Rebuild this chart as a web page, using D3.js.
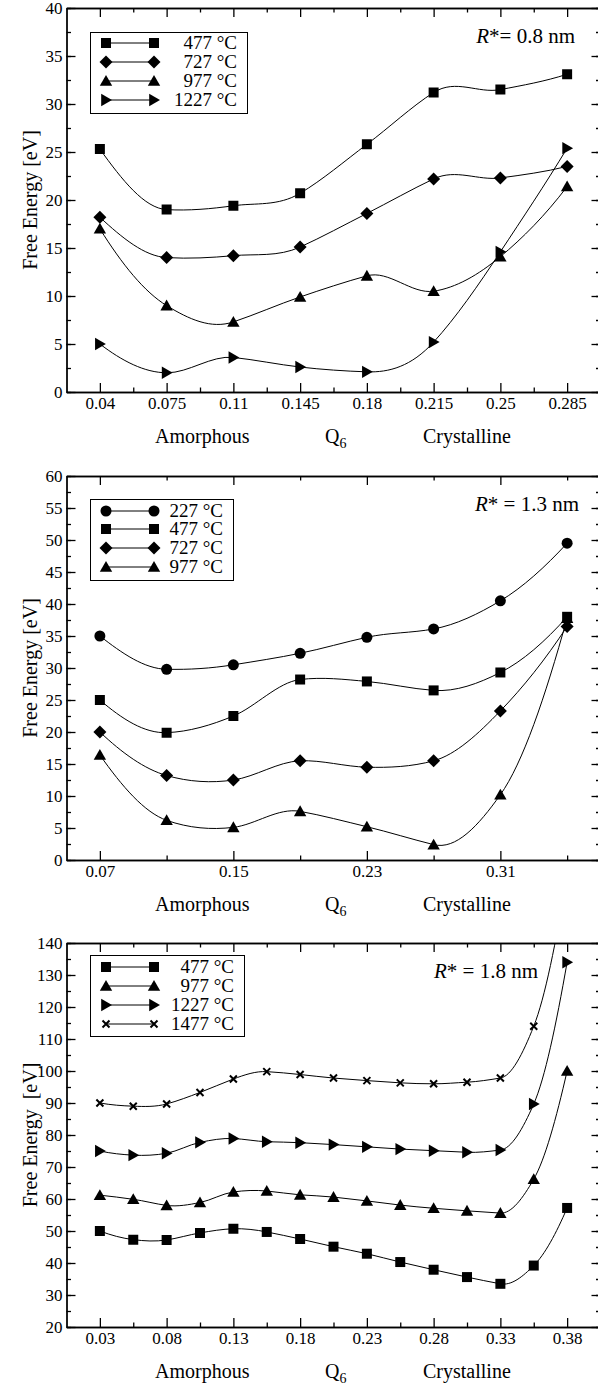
<!DOCTYPE html>
<html>
<head>
<meta charset="utf-8">
<script src="https://cdn.jsdelivr.net/npm/d3@7"></script>
<style>
body { margin: 0; background: #fff; }
svg { display: block; }
svg text { font-family: "Liberation Serif", "Times New Roman", "DejaVu Serif", serif; }
</style>
</head>
<body>
<div id="chart"></div>
<script>
// ---- R* = 0.8 nm ----
var q6_a = [0.04, 0.075, 0.11, 0.145, 0.18, 0.215, 0.25, 0.285];
var fe_a_477 = [25.3, 19.0, 19.4, 20.7, 25.8, 31.2, 31.5, 33.1];
var fe_a_727 = [18.2, 14.0, 14.2, 15.1, 18.6, 22.2, 22.3, 23.5];
var fe_a_977 = [17.0, 9.0, 7.3, 9.9, 12.1, 10.5, 14.1, 21.4];
var fe_a_1227 = [5.0, 2.0, 3.6, 2.6, 2.1, 5.2, 14.6, 25.4];
var xlab_a = ["0.04", "0.075", "0.11", "0.145", "0.18", "0.215", "0.25", "0.285"];
var ylab_a = [0, 5, 10, 15, 20, 25, 30, 35, 40];

// ---- R* = 1.3 nm ----
var q6_b = [0.07, 0.11, 0.15, 0.19, 0.23, 0.27, 0.31, 0.35];
var fe_b_227 = [35.0, 29.8, 30.5, 32.3, 34.8, 36.1, 40.5, 49.5];
var fe_b_477 = [25.0, 19.9, 22.5, 28.2, 27.9, 26.5, 29.3, 38.0];
var fe_b_727 = [20.0, 13.2, 12.5, 15.5, 14.5, 15.5, 23.3, 36.5];
var fe_b_977 = [16.4, 6.2, 5.1, 7.6, 5.2, 2.4, 10.2, 37.8];
var xtick_b = [0.07, 0.15, 0.23, 0.31];
var xlab_b = ["0.07", "0.15", "0.23", "0.31"];
var ylab_b = [0, 5, 10, 15, 20, 25, 30, 35, 40, 45, 50, 55, 60];

// ---- R* = 1.8 nm ----
var q6_c = [0.03, 0.055, 0.08, 0.105, 0.13, 0.155, 0.18, 0.205, 0.23, 0.255, 0.28, 0.305, 0.33, 0.355, 0.38];
var fe_c_477 = [50.0, 47.3, 47.2, 49.4, 50.7, 49.7, 47.5, 45.1, 42.9, 40.3, 37.9, 35.6, 33.5, 39.2, 57.2];
var fe_c_977 = [61.2, 59.9, 58.0, 58.9, 62.2, 62.5, 61.3, 60.6, 59.4, 58.1, 57.1, 56.3, 55.6, 66.2, 100.0];
var fe_c_1227 = [75.0, 73.7, 74.3, 77.7, 78.9, 77.9, 77.6, 77.0, 76.3, 75.6, 75.1, 74.6, 75.3, 89.7, 134.0];
var fe_c_1477 = [90.0, 89.0, 89.7, 93.3, 97.5, 99.8, 98.9, 97.8, 97.0, 96.3, 96.0, 96.5, 97.8, 114.0, 161.0];
var xtick_c = [0.03, 0.08, 0.13, 0.18, 0.23, 0.28, 0.33, 0.38];
var xlab_c = ["0.03", "0.08", "0.13", "0.18", "0.23", "0.28", "0.33", "0.38"];
var ylab_c = [20, 30, 40, 50, 60, 70, 80, 90, 100, 110, 120, 130, 140];

var FONT = "Liberation Serif";
var W = 598, H = 1393;
var LEFT = 66.5, RIGHT = 600.5, PH = 384;

// Akima spline as a d3 curve (like the grace plots)
function Akima(context) { this._context = context; }
Akima.prototype = {
    areaStart: function() { this._line = 0; },
    areaEnd: function() { this._line = NaN; },
    lineStart: function() { this._xs = []; this._ys = []; },
    point: function(x, y) { this._xs.push(+x); this._ys.push(+y); },
    lineEnd: function() {
        var xs = this._xs, ys = this._ys, n = xs.length, c = this._context;
        if (!n) return;
        c.moveTo(xs[0], ys[0]);
        if (n < 3) { for (var k = 1; k < n; k++) c.lineTo(xs[k], ys[k]); return; }
        var m = new Array(n + 3);
        for (var j = 0; j < n - 1; j++) m[j + 2] = (ys[j + 1] - ys[j]) / (xs[j + 1] - xs[j]);
        m[1] = 2 * m[2] - m[3];
        m[0] = 2 * m[1] - m[2];
        m[n + 1] = 2 * m[n] - m[n - 1];
        m[n + 2] = 2 * m[n + 1] - m[n];
        var t = [];
        for (var i = 0; i < n; i++) {
            var w1 = Math.abs(m[i + 3] - m[i + 2]), w2 = Math.abs(m[i + 1] - m[i]);
            if (w1 + w2 < 1e-9) t[i] = (m[i + 1] + m[i + 2]) / 2;
            else t[i] = (w1 * m[i + 1] + w2 * m[i + 2]) / (w1 + w2);
        }
        for (var i = 0; i < n - 1; i++) {
            var h = xs[i + 1] - xs[i];
            c.bezierCurveTo(xs[i] + h / 3, ys[i] + t[i] * h / 3,
                            xs[i + 1] - h / 3, ys[i + 1] - t[i + 1] * h / 3,
                            xs[i + 1], ys[i + 1]);
        }
    }
};
function curveAkima(context) { return new Akima(context); }

function symbolPath(type) {
    switch (type) {
        case "square": return "M-5,-5H5V5H-5Z";
        case "diamond": return "M0,-6.5L6.5,0L0,6.5L-6.5,0Z";
        case "up": return "M0,-6L6.2,4.8H-6.2Z";
        case "right": return "M6,0L-4.8,6.2V-6.2Z";
        case "circle": return d3.symbol(d3.symbolCircle, 95)();
        case "cross": return "M-3.5,-3.5L3.5,3.5M-3.5,3.5L3.5,-3.5";
    }
}

function addMarker(g, type, x, y) {
    var p = g.append("path").attr("d", symbolPath(type))
        .attr("transform", "translate(" + x + "," + y + ")");
    if (type == "cross") p.attr("fill", "none").attr("stroke", "#000").attr("stroke-width", 2);
    else p.attr("fill", "#000");
}

var svg = d3.select("#chart").append("svg").attr("width", W).attr("height", H)
    .attr("font-family", FONT);

function drawPanel(cfg, idx) {
    var top = cfg.top, bottom = top + PH;
    var x = d3.scaleLinear().domain(cfg.xdom).range([LEFT, RIGHT]);
    var y = d3.scaleLinear().domain(cfg.ydom).range([bottom, top]);
    var g = svg.append("g");

    var clipId = "clip" + idx;
    svg.append("clipPath").attr("id", clipId).append("rect")
        .attr("x", LEFT).attr("y", top).attr("width", RIGHT - LEFT).attr("height", PH);

    // axes / frame with inward ticks
    function styleAxis(a) {
        a.attr("font-family", FONT).attr("font-size", 17);
        a.selectAll("path,line").attr("stroke", "#000").attr("stroke-width", 1.3);
        a.selectAll("text").attr("fill", "#000");
    }
    var none = function() { return ""; };
    var ymin = d3.range(cfg.ydom[0], cfg.ydom[1] + 0.001, cfg.ystep / 2);

    g.append("g").attr("transform", "translate(0," + bottom + ")")
        .call(d3.axisBottom(x).tickValues(cfg.xminor).tickSizeInner(-4.5).tickSizeOuter(0).tickFormat(none)).call(styleAxis);
    g.append("g").attr("transform", "translate(0," + bottom + ")")
        .call(d3.axisBottom(x).tickValues(cfg.xticks).tickSizeInner(-9).tickSizeOuter(0).tickPadding(5)
            .tickFormat(function(d, i) { return cfg.xlabels[i]; })).call(styleAxis);
    g.append("g").attr("transform", "translate(0," + top + ")")
        .call(d3.axisTop(x).tickValues(cfg.xminor).tickSizeInner(-4.5).tickSizeOuter(0).tickFormat(none)).call(styleAxis);
    g.append("g").attr("transform", "translate(0," + top + ")")
        .call(d3.axisTop(x).tickValues(cfg.xticks).tickSizeInner(-9).tickSizeOuter(0).tickFormat(none)).call(styleAxis);
    g.append("g").attr("transform", "translate(" + LEFT + ",0)")
        .call(d3.axisLeft(y).tickValues(ymin).tickSizeInner(-4.5).tickSizeOuter(0).tickFormat(none)).call(styleAxis);
    g.append("g").attr("transform", "translate(" + LEFT + ",0)")
        .call(d3.axisLeft(y).tickValues(cfg.ylabels).tickSizeInner(-9).tickSizeOuter(0).tickPadding(4)
            .tickFormat(d3.format("d"))).call(styleAxis);
    g.append("g").attr("transform", "translate(" + RIGHT + ",0)")
        .call(d3.axisRight(y).tickValues(ymin).tickSizeInner(-4.5).tickSizeOuter(0).tickFormat(none)).call(styleAxis);
    g.append("g").attr("transform", "translate(" + RIGHT + ",0)")
        .call(d3.axisRight(y).tickValues(cfg.ylabels).tickSizeInner(-9).tickSizeOuter(0).tickFormat(none)).call(styleAxis);

    // data
    var line = d3.line().curve(curveAkima).x(function(d) { return x(d[0]); }).y(function(d) { return y(d[1]); });
    var dg = g.append("g").attr("clip-path", "url(#" + clipId + ")");
    cfg.series.forEach(function(s) {
        var pts = cfg.q6.map(function(q, i) { return [q, s.values[i]]; });
        dg.append("path").attr("d", line(pts)).attr("fill", "none").attr("stroke", "#000").attr("stroke-width", 1);
    });
    cfg.series.forEach(function(s) {
        cfg.q6.forEach(function(q, i) { addMarker(dg, s.sym, x(q), y(s.values[i])); });
    });

    // legend
    var L = cfg.legend;
    var lg = g.append("g");
    lg.append("rect").attr("x", 90.5).attr("y", top + L.y0 + 0.5).attr("width", L.x1 - 90)
        .attr("height", L.h).attr("fill", "#fff").attr("stroke", "#000").attr("stroke-width", 1);
    cfg.series.forEach(function(s, i) {
        var ry = top + L.rows[i];
        lg.append("line").attr("x1", 106).attr("x2", 154).attr("y1", ry).attr("y2", ry)
            .attr("stroke", "#000").attr("stroke-width", 1);
        addMarker(lg, s.sym, 106, ry);
        addMarker(lg, s.sym, 154, ry);
        lg.append("text").attr("x", L.tx).attr("y", ry + 6).attr("text-anchor", "end")
            .attr("font-size", 19).text(s.name + " °C");
    });

    // R* annotation
    var rt = g.append("text").attr("x", cfg.rx).attr("y", top + 35).attr("text-anchor", "end").attr("font-size", 21);
    rt.append("tspan").attr("font-style", "italic").text("R");
    rt.append("tspan").text(cfg.rtext);

    // axis titles
    g.append("text").attr("transform", "translate(37," + (top + PH / 2) + ") rotate(-90)")
        .attr("text-anchor", "middle").attr("font-size", 20).style("white-space", "pre").text(cfg.ytitle);
    var ty = bottom + 51;
    g.append("text").attr("x", 155).attr("y", ty).attr("font-size", 20).text("Amorphous");
    var qt = g.append("text").attr("x", 325).attr("y", ty).attr("font-size", 20);
    qt.append("tspan").text("Q");
    qt.append("tspan").attr("dy", 5).attr("font-size", 14).text("6");
    g.append("text").attr("x", 423).attr("y", ty).attr("font-size", 20).text("Crystalline");
}

function mids(a) {
    var r = [];
    for (var i = 0; i < a.length - 1; i++) r.push((a[i] + a[i + 1]) / 2);
    return r;
}

var panels = [
    {
        top: 8, xdom: [0.0225, 0.3025], ydom: [0, 40], ystep: 5,
        q6: q6_a, xticks: q6_a, xminor: mids(q6_a), xlabels: xlab_a, ylabels: ylab_a,
        series: [
            { name: "477", sym: "square", values: fe_a_477 },
            { name: "727", sym: "diamond", values: fe_a_727 },
            { name: "977", sym: "up", values: fe_a_977 },
            { name: "1227", sym: "right", values: fe_a_1227 }
        ],
        legend: { y0: 24, h: 81, x1: 247, tx: 237, rows: [35, 54, 73, 92] },
        rx: 575, rtext: "*= 0.8 nm", ytitle: "Free Energy [eV]"
    },
    {
        top: 476, xdom: [0.05, 0.37], ydom: [0, 60], ystep: 5,
        q6: q6_b, xticks: xtick_b, xminor: mids(xtick_b).concat([0.35]), xlabels: xlab_b, ylabels: ylab_b,
        series: [
            { name: "227", sym: "circle", values: fe_b_227 },
            { name: "477", sym: "square", values: fe_b_477 },
            { name: "727", sym: "diamond", values: fe_b_727 },
            { name: "977", sym: "up", values: fe_b_977 }
        ],
        legend: { y0: 23, h: 81, x1: 233, tx: 223, rows: [35, 53, 72, 91] },
        rx: 579, rtext: "* = 1.3 nm", ytitle: "Free Energy [eV]"
    },
    {
        top: 943, xdom: [0.005, 0.405], ydom: [20, 140], ystep: 10,
        q6: q6_c, xticks: xtick_c, xminor: mids(xtick_c), xlabels: xlab_c, ylabels: ylab_c,
        series: [
            { name: "477", sym: "square", values: fe_c_477 },
            { name: "977", sym: "up", values: fe_c_977 },
            { name: "1227", sym: "right", values: fe_c_1227 },
            { name: "1477", sym: "cross", values: fe_c_1477 }
        ],
        legend: { y0: 12, h: 81, x1: 244, tx: 234, rows: [24, 43, 62, 81] },
        rx: 538, rtext: "* = 1.8 nm", ytitle: "Free Energy  [eV]"
    }
];

panels.forEach(drawPanel);
</script>
</body>
</html>
